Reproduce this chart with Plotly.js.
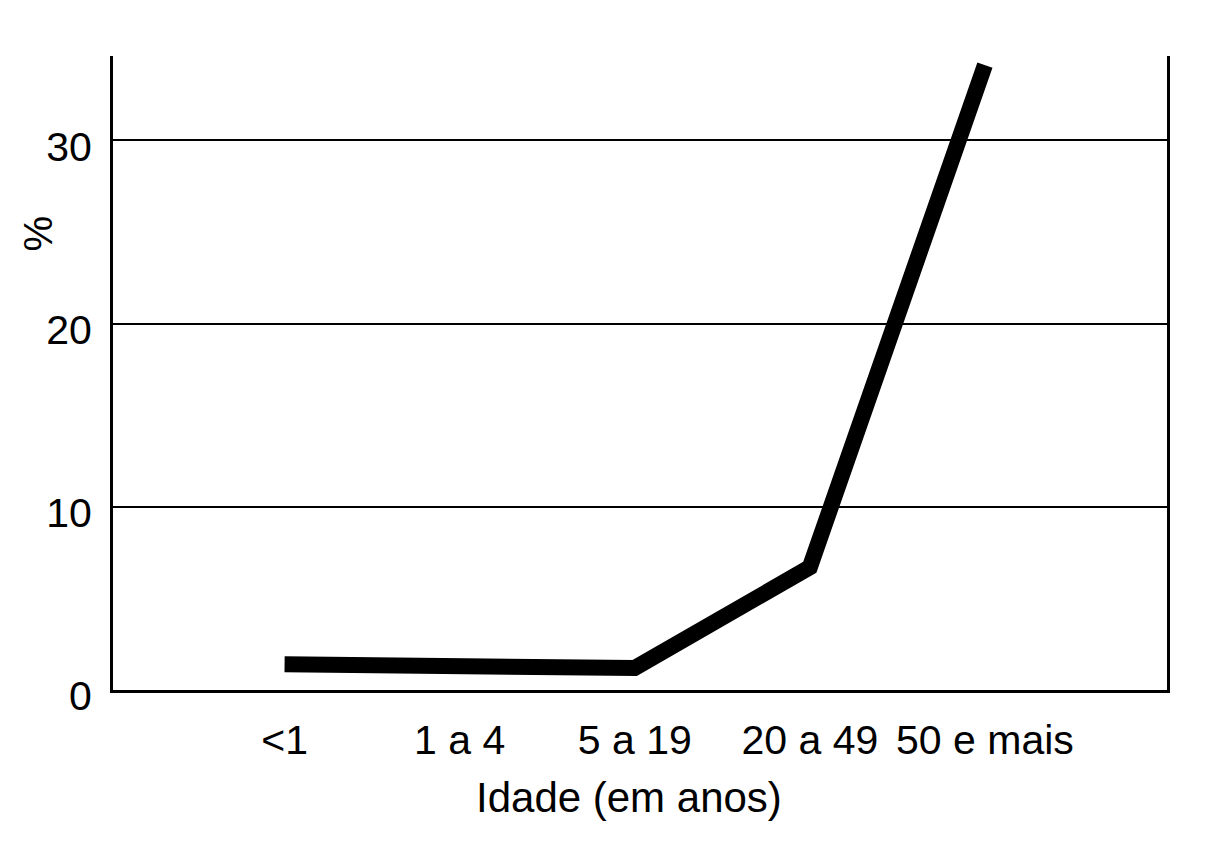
<!DOCTYPE html>
<html>
<head>
<meta charset="utf-8">
<script src="https://cdn.plot.ly/plotly-3.0.1.min.js"></script>
<style>
  html, body { margin: 0; padding: 0; background: #fff; }
  #chart { width: 1216px; height: 864px; }
</style>
</head>
<body>
<div id="chart"></div>
<script>
var faixas = ['<1', '1 a 4', '5 a 19', '20 a 49', '50 e mais'];   // idade (em anos)
var percentual = [1.4, 1.3, 1.2, 6.7, 34.1];                      // %
var yTicks = [0, 10, 20, 30];

var fonte = 'Liberation Sans, Arial, sans-serif';

var trace = [{
  type: 'scatter',
  mode: 'lines',
  x: faixas,
  y: percentual,
  line: { color: '#000', width: 16 },
  hoverinfo: 'skip'
}];

var layout = {
  width: 1216,
  height: 864,
  margin: { l: 113, r: 49, t: 56, b: 174, pad: 0 },
  paper_bgcolor: '#fff',
  plot_bgcolor: '#fff',
  showlegend: false,
  font: { family: fonte, size: 41, color: '#000' },
  xaxis: {
    type: 'category',
    range: [-0.98, 5.04],
    showgrid: false,
    zeroline: false,
    showline: true,
    linecolor: '#000',
    linewidth: 3,
    ticks: '',
    ticklabelstandoff: 12,
    tickfont: { family: fonte, size: 41, color: '#000' },
    fixedrange: true
  },
  yaxis: {
    range: [0, 34.6],
    tickvals: yTicks,
    ticktext: yTicks.map(String),
    showgrid: true,
    gridcolor: '#000',
    gridwidth: 2,
    zeroline: false,
    showline: true,
    mirror: true,
    linecolor: '#000',
    linewidth: 3,
    ticks: '',
    ticklabelstandoff: 10,
    ticklabelshift: 6,
    tickfont: { family: fonte, size: 41, color: '#000' },
    fixedrange: true
  },
  annotations: [
    {
      text: 'Idade (em anos)',
      xref: 'paper', yref: 'paper',
      x: 0.49, y: 0, yshift: -107,
      xanchor: 'center', yanchor: 'middle',
      showarrow: false,
      font: { family: fonte, size: 42, color: '#000' }
    },
    {
      text: '%',
      xref: 'paper', yref: 'paper',
      x: 0, xshift: -75, y: 0.72,
      xanchor: 'center', yanchor: 'middle',
      textangle: -90,
      showarrow: false,
      font: { family: fonte, size: 40, color: '#000' }
    }
  ]
};

Plotly.newPlot('chart', trace, layout, { displayModeBar: false, staticPlot: true });
</script>
</body>
</html>
